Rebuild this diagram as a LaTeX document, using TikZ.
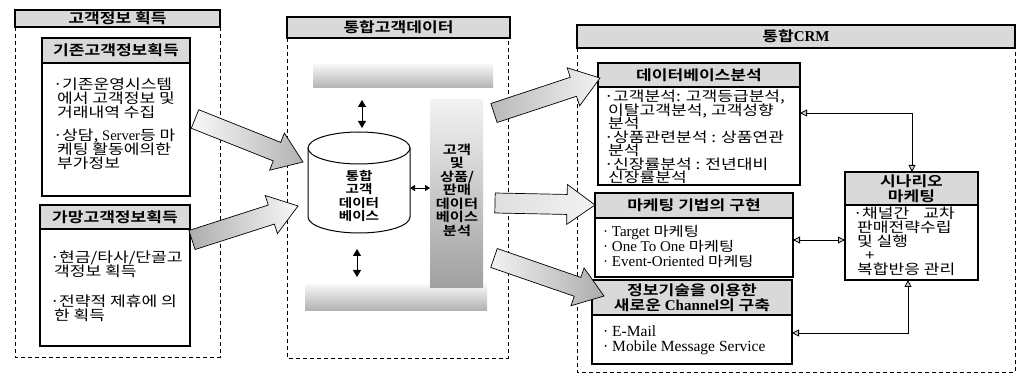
\documentclass[tikz,border=0pt]{standalone}
\usepackage{fontspec}
\setmainfont{Noto Sans CJK KR}[BoldFont={Noto Sans CJK KR Bold}, FakeStretch=1.22]
\newfontfamily\lat{Liberation Serif}
\usetikzlibrary{calc,arrows.meta}
\newcommand\bu{\makebox[9pt][l]{·}}
\newcommand\ind{\hspace*{4pt}}
\newcommand\tight{\lineskiplimit=-\maxdimen}
\newcommand\blockarrow[4]{%
  \coordinate (#1s) at (#2);
  \coordinate (#1e) at (#3);
  \coordinate (#1h) at ($(#1e)!28pt!(#1s)$);
  \shade[draw=black, line width=0.7pt, #4]
    ($(#1s)!10pt!90:(#1e)$) --
    ($(#1h)!10pt!90:(#1e)$) --
    ($(#1h)!20pt!90:(#1e)$) --
    (#1e) --
    ($(#1h)!20pt!-90:(#1e)$) --
    ($(#1h)!10pt!-90:(#1e)$) --
    ($(#1s)!10pt!-90:(#1e)$) -- cycle;
}
\tikzset{
  hdr/.style={draw, line width=1.2pt, fill=gray!30, inner sep=0pt, outer sep=0pt,
    anchor=north west, font=\fontsize{14}{15}\selectfont\bfseries\tight, align=center},
  boxo/.style={draw, line width=1.1pt, fill=white, inner sep=0pt, outer sep=0pt, anchor=north west},
  body/.style={inner sep=0pt, anchor=north west, align=left, font=\fontsize{14}{14}\selectfont\tight},
  lbody/.style={inner sep=0pt, anchor=north west, align=left, font=\lat\fontsize{15}{15}\selectfont\tight},
  frame/.style={dashed, line width=0.8pt, dash pattern=on 4pt off 3pt},
  bar/.style={inner sep=0pt, outer sep=0pt, anchor=north west},
  dbl/.style={line width=0.8pt, {Triangle[length=7pt,width=8pt]}-{Triangle[length=7pt,width=8pt]}},
  conn/.style={line width=0.8pt, {Triangle[length=7pt,width=7pt,fill=gray!40]}-{Triangle[length=7pt,width=7pt,fill=gray!40]}},
  mid/.style={inner sep=0pt, align=center, font=\fontsize{12}{13.5}\selectfont\bfseries\tight}
}
\begin{document}
\begin{tikzpicture}[x=1pt,y=-1pt]
\path[fill=white] (0,0) rectangle (1018,382);
\useasboundingbox (0,0) rectangle (1018,382);

% ---------- left panel ----------
\node[hdr, minimum width=205pt, minimum height=17pt] (lh) at (15,10) {고객정보 획득};
\coordinate (lbl) at (15,357); \coordinate (lbr) at (220,357);
\draw[frame] (lh.south west) -- (lbl) -- (lbr) -- (lh.south east);

\node[boxo, minimum width=148pt, minimum height=158pt] (b1) at (42,38) {};
\node[hdr, minimum width=148pt, minimum height=25pt] (b1h) at (42,38) {기존고객정보획득};
\node[body] (b1t) at (53,78) {\bu 기존운영시스템\\\ind 에서 고객정보 및\\\ind 거래내역 수집\\[9pt]\bu 상담, {\lat\fontsize{14.5}{14}\selectfont Server}등 마\\\ind 케팅 활동에의한\\\ind 부가정보};

\node[boxo, minimum width=150pt, minimum height=141pt] (b2) at (40,205) {};
\node[hdr, minimum width=150pt, minimum height=24pt] (b2h) at (40,205) {가망고객정보획득};
\node[body] (b2t) at (50,251) {\bu 현금/타사/단골고\\\ind 객정보 획득\\[16pt]\bu 전략적 제휴에 의\\\ind 한 획득};

% ---------- middle panel ----------
\node[hdr, minimum width=223pt, minimum height=21pt] (mh) at (287,17) {통합고객데이터};
\coordinate (mbl) at (287,358); \coordinate (mbr) at (508,358); \coordinate (mtr) at (508,38);
\draw[frame] (mh.south west) -- (mbl) -- (mbr) -- (mtr);

\node[bar, minimum width=180pt, minimum height=23pt, top color=gray!8, bottom color=gray!60] (tb) at (313,65) {};
\node[bar, minimum width=182pt, minimum height=25pt, top color=gray!8, bottom color=gray!60] (bb) at (305,285) {};
\node[bar, minimum width=53pt, minimum height=188pt, top color=gray!10, bottom color=gray!75] (vb) at (430,100) {};
\node[mid, font=\fontsize{12.5}{13.5}\selectfont\bfseries\tight] (vbt) at (457,190) {고객\\및\\상품/\\판매\\데이터\\베이스\\분석};

% cylinder
\draw[line width=1pt, fill=white] (308,148) -- (308,217) arc[start angle=180, end angle=0, x radius=51, y radius=16] -- (410,148);
\draw[line width=1pt, fill=white] (359,148) ellipse[x radius=51, y radius=16];
\node[mid] (db) at (359,196) {통합\\고객\\데이터\\베이스};
\coordinate (cyltop) at (362,128); \coordinate (ta) at (362,100);
\coordinate (cylbot) at (357,249); \coordinate (ba) at (357,277);
\coordinate (cylr) at (410,188); \coordinate (vbl) at (430,188);
\draw[dbl] (ta) -- (cyltop);
\draw[dbl] (cylbot) -- (ba);
\draw[line width=0.8pt, {Triangle[length=5pt,width=6pt]}-{Triangle[length=5pt,width=6pt]}] (cylr) -- (vbl);

% ---------- right panel ----------
\node[hdr, minimum width=438pt, minimum height=23pt] (rh) at (577,25) {통합{\lat\bfseries\fontsize{15}{15}\selectfont CRM}};
\coordinate (rbl) at (577,372); \coordinate (rbr) at (1015,372);
\draw[frame] (rh.south west) -- (rbl) -- (rbr) -- (rh.south east);

\node[boxo, minimum width=202pt, minimum height=122pt] (dbb) at (598,63) {};
\node[hdr, minimum width=202pt, minimum height=24pt] (dbbh) at (598,63) {데이터베이스분석};
\node[body, font=\fontsize{14}{13.5}\selectfont\tight] (dbbt) at (604,90) {\bu 고객분석: 고객등급분석,\\\ind 이탈고객분석, 고객성향\\\ind 분석\\\bu 상품관련분석 : 상품연관\\\ind 분석\\\bu 신장률분석 : 전년대비\\\ind 신장률분석};

\node[boxo, minimum width=198pt, minimum height=84pt] (mk) at (595,193) {};
\node[hdr, minimum width=198pt, minimum height=25pt] (mkh) at (595,193) {마케팅 기법의 구현};
\node[lbody] (mkt) at (603,225) {· Target {\rmfamily\fontsize{13.5}{15}\selectfont 마케팅}\\· One To One {\rmfamily\fontsize{13.5}{15}\selectfont 마케팅}\\· Event-Oriented {\rmfamily\fontsize{13.5}{15}\selectfont 마케팅}};

\node[boxo, minimum width=200pt, minimum height=84pt] (ch) at (592,280) {};
\node[hdr, minimum width=200pt, minimum height=35pt, font=\fontsize{14}{15}\selectfont\bfseries\tight] (chh) at (592,280) {정보기술을 이용한\\새로운 {\lat\bfseries\fontsize{15}{15}\selectfont Channel}의 구축};
\node[lbody, font=\lat\fontsize{15.5}{15}\selectfont\tight] (cht) at (603,326) {· E-Mail\\· Mobile Message Service};

\node[boxo, minimum width=133pt, minimum height=108pt] (sc) at (845,172) {};
\node[hdr, minimum width=133pt, minimum height=33pt, font=\fontsize{14}{15}\selectfont\bfseries\tight] (sch) at (845,172) {시나리오\\마케팅};
\node[body] (sct) at (853,207) {\bu 채널간\quad 교차\\\ind 판매전략수립\\\ind 및 실행\\\hspace*{12pt}+\\\ind 복합반응 관리};

% connectors right
\coordinate (c1a) at (800,113); \coordinate (c1b) at (912,172);
\draw[conn] (c1a) -| (c1b);
\coordinate (c2a) at (793,240); \coordinate (c2b) at (845,240);
\draw[conn] (c2a) -- (c2b);
\coordinate (c3a) at (792,333); \coordinate (c3b) at (908,280);
\draw[conn] (c3a) -| (c3b);

% ---------- block arrows ----------
\blockarrow{a1}{195,119}{303,162}{left color=gray!5, right color=gray!60}
\blockarrow{a2}{192,240}{298,206}{left color=gray!65, right color=gray!5}
\blockarrow{a3}{494,113}{600,78}{left color=gray!55, right color=gray!10}
\blockarrow{a4}{495,203}{595,205}{left color=gray!25, right color=gray!10}
\blockarrow{a5}{494,258}{604,296}{left color=gray!10, right color=gray!65}
\end{tikzpicture}
\end{document}
